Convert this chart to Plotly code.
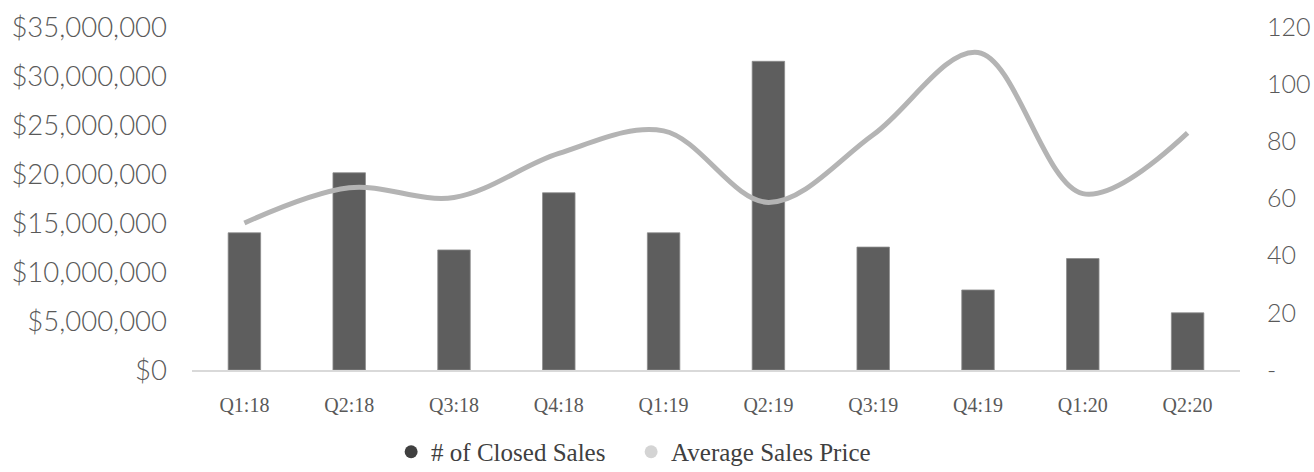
import plotly.graph_objects as go

quarters = ["Q1:18", "Q2:18", "Q3:18", "Q4:18", "Q1:19", "Q2:19", "Q3:19", "Q4:19", "Q1:20", "Q2:20"]
closed_sales = [48, 69, 42, 62, 48, 108, 43, 28, 39, 20]
avg_price = [15.0e6, 18.6e6, 17.6e6, 22.1e6, 24.4e6, 17.1e6, 24.0e6, 32.4e6, 18.0e6, 24.2e6]

price_ticks = [0, 5e6, 10e6, 15e6, 20e6, 25e6, 30e6, 35e6]
count_ticks = [0, 20, 40, 60, 80, 100, 120]
count_ticktext = ["-", "20", "40", "60", "80", "100", "120"]

BAR = "#5e5e5e"
LINE = "#b4b4b4"
TXT = "#595959"
sans = "Lato, 'Open Sans', sans-serif"
serif = "'Liberation Serif', 'DejaVu Serif', serif"

fig = go.Figure()
fig.add_trace(go.Bar(
    x=quarters, y=closed_sales, name="# of Closed Sales", yaxis="y",
    marker=dict(color=BAR, line=dict(color="#8c8c8c", width=0.8)),
    showlegend=False,
))
fig.add_trace(go.Scatter(
    x=quarters, y=avg_price, name="Average Sales Price", yaxis="y2",
    mode="lines", line=dict(color=LINE, width=5, shape="spline", smoothing=1.0),
    showlegend=False,
))
# legend entries as circles
fig.add_trace(go.Scatter(x=[None], y=[None], mode="markers", name="# of Closed Sales",
                         marker=dict(symbol="circle", size=13, color="#404040")))
fig.add_trace(go.Scatter(x=[None], y=[None], mode="markers", name="Average Sales Price",
                         marker=dict(symbol="circle", size=13, color="#d4d4d4")))

fig.update_layout(
    width=1314, height=472,
    margin=dict(l=192, r=74, t=27, b=102, autoexpand=False),
    paper_bgcolor="white", plot_bgcolor="white",
    bargap=0.69,
    xaxis=dict(
        showgrid=False, showline=True, linecolor="#d9d9d9", linewidth=1.5,
        ticks="", tickfont=dict(family=serif, size=20, color=TXT),
        ticklabelstandoff=16,
    ),
    yaxis=dict(
        side="right", range=[0, 120], tickvals=count_ticks, ticktext=count_ticktext,
        showgrid=False, zeroline=False, showline=False, ticks="",
        tickfont=dict(family=sans, size=25, color=TXT, weight=300),
        ticklabelstandoff=26,
    ),
    yaxis2=dict(
        side="left", overlaying="y", range=[0, 35e6], tickvals=price_ticks,
        tickformat="$,.0f", showgrid=False, zeroline=False, showline=False, ticks="",
        tickfont=dict(family=sans, size=27.5, color=TXT, weight=300),
        ticklabelstandoff=24,
    ),
    legend=dict(
        orientation="h", x=0.19, xanchor="left", y=-0.239, yanchor="middle",
        font=dict(family=serif, size=25, color="#404040"),
        itemwidth=30, tracegroupgap=0, entrywidth=195,
    ),
)

fig.write_html(
    "out.html",
    config={"displayModeBar": False},
    post_script=(
        "document.documentElement.style.margin='0';"
        "document.documentElement.style.overflow='hidden';"
        "document.body.style.margin='0';"
        "document.body.style.overflow='hidden';"
    ),
)
